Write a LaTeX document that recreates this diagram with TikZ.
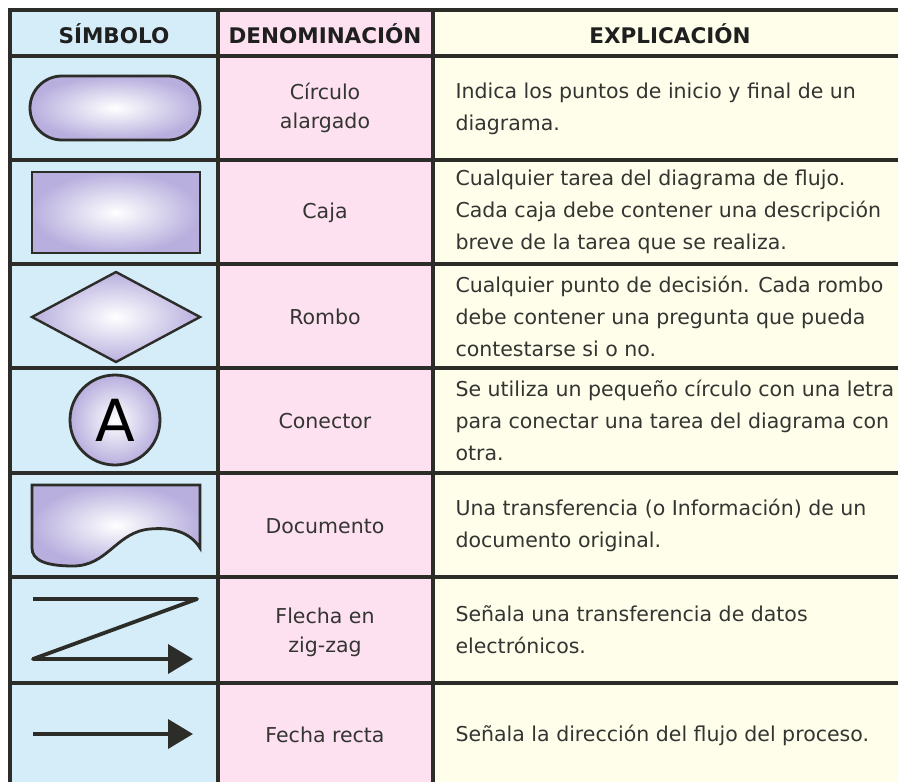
\documentclass[tikz,border=0pt]{standalone}
\usepackage{fontspec}
\setmainfont{DejaVu Sans}
\usetikzlibrary{arrows.meta}
\definecolor{celeste}{RGB}{213,237,249}
\definecolor{rosa}{RGB}{253,225,240}
\definecolor{crema}{RGB}{254,254,234}
\definecolor{lila}{RGB}{184,175,222}
\definecolor{tinta}{RGB}{44,44,40}
\definecolor{letra}{RGB}{52,52,50}
\begin{document}
\begin{tikzpicture}[x=1pt,y=-1pt,
  raya/.style={draw=tinta,line width=3.2pt},
  figura/.style={draw=tinta,line width=2.8pt,inner color=white,outer color=lila},
  flecha/.style={draw=tinta,line width=3.8pt,line join=round,
    -{Triangle[length=25pt,width=29pt]}},
  titulo/.style={font=\bfseries\fontsize{21.5}{24}\selectfont,text=black!88},
  nombre/.style={font=\fontsize{20.5}{29}\selectfont,text=letra,align=center},
  texto/.style={font=\fontsize{20.5}{32}\selectfont,text=letra,align=left,anchor=west}]

\useasboundingbox (0,0) rectangle (898,782);
\fill [white] (0,0) rectangle (898,782);

% columnas
\fill [celeste] (10,10) rectangle (218,792);
\fill [rosa]    (218,10) rectangle (433,792);
\fill [crema]   (433,10) rectangle (912,792);

\foreach \y in {10,56,160,264,368,473,577,683}
{\draw [raya] (8,\y) -- (912,\y);}
\foreach \x in {10,218,433}
{\draw [raya] (\x,8) -- (\x,792);}

% cabecera
\node [titulo] (simbolo) at (114,34) {SÍMBOLO};
\node [titulo] (denominacion) at (325,34) {DENOMINACIÓN};
\node [titulo] (explicacion) at (670,34) {EXPLICACIÓN};

% simbolos
\draw [figura,rounded corners=32pt] (30,76) rectangle (200,140);
\draw [figura] (32,172) rectangle (200,253);
\draw [figura,line width=2.4pt] (32,317) -- (116,272) -- (200,317) -- (116,362) -- cycle;
\node [figura,circle,minimum size=90pt,inner sep=0pt,
       font=\fontsize{58}{58}\selectfont,text=black] (letraA) at (115,420) {A};
\draw [figura] (32,485) -- (200,485) -- (200,548)
  .. controls (190,532) and (172,527) .. (150,529)
  .. controls (116,532) and (108,566) .. (73,566)
  .. controls (45,566) and (32,560) .. (32,548) -- cycle;

\coordinate (z1) at (33,599);
\coordinate (z2) at (197,599);
\coordinate (z3) at (33,659);
\coordinate (z4) at (193,659);
\draw [flecha] (z1) -- (z2) -- (z3) -- (z4);

\coordinate (r1) at (33,734);
\coordinate (r2) at (193,734);
\draw [flecha] (r1) -- (r2);

% denominaciones
\node [nombre] (circulo) at (325,108) {Círculo\\alargado};
\node [nombre] (caja) at (325,213) {Caja};
\node [nombre] (rombo) at (325,317) {Rombo};
\node [nombre] (conector) at (325,421) {Conector};
\node [nombre] (documento) at (325,526) {Documento};
\node [nombre] (zigzag) at (325,632) {Flecha en\\zig-zag};
\node [nombre] (recta) at (325,735) {Fecha recta};

% explicaciones
\node [texto] (e1) at (452,109) {Indica los puntos de inicio y final de un\\diagrama.};
\node [texto] (e2) at (452,212) {Cualquier tarea del diagrama de flujo.\\Cada caja debe contener una descripción\\breve de la tarea que se realiza.};
\node [texto] (e3) at (452,316) {Cualquier punto de decisión. Cada rombo\\debe contener una pregunta que pueda\\contestarse si o no.};
\node [texto] (e4) at (452,420) {Se utiliza un pequeño círculo con una letra\\para conectar una tarea del diagrama con\\otra.};
\node [texto] (e5) at (452,525) {Una transferencia (o Información) de un\\documento original.};
\node [texto] (e6) at (452,630) {Señala una transferencia de datos\\electrónicos.};
\node [texto] (e7) at (452,735) {Señala la dirección del flujo del proceso.};

\end{tikzpicture}
\end{document}
